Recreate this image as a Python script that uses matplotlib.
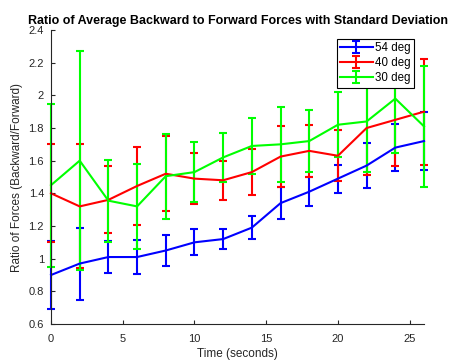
import matplotlib
matplotlib.use("Agg")
import matplotlib.pyplot as plt
from matplotlib.ticker import FuncFormatter

# time points (seconds)
time_s = [0, 2, 4, 6, 8, 10, 12, 14, 16, 18, 20, 22, 24, 26]

# mean ratio of backward / forward force, per angle
mean_54 = [0.90, 0.97, 1.01, 1.01, 1.05, 1.10, 1.12, 1.19, 1.34, 1.41, 1.49, 1.57, 1.68, 1.72]
std_54 = [0.21, 0.22, 0.10, 0.105, 0.095, 0.08, 0.06, 0.07, 0.10, 0.09, 0.085, 0.14, 0.145, 0.18]

mean_40 = [1.40, 1.32, 1.36, 1.445, 1.52, 1.49, 1.48, 1.53, 1.625, 1.66, 1.63, 1.80, 1.85, 1.90]
std_40 = [0.30, 0.38, 0.205, 0.24, 0.23, 0.155, 0.12, 0.14, 0.185, 0.16, 0.155, 0.29, 0.28, 0.325]

mean_30 = [1.45, 1.60, 1.355, 1.32, 1.505, 1.53, 1.62, 1.69, 1.70, 1.72, 1.82, 1.84, 1.98, 1.81]
std_30 = [0.50, 0.67, 0.25, 0.26, 0.26, 0.185, 0.15, 0.17, 0.23, 0.19, 0.20, 0.31, 0.335, 0.37]

labels = ["54 deg", "40 deg", "30 deg"]
colors = ["#0000ff", "#ff0000", "#00ff00"]

plt.rcParams['font.family'] = ['Liberation Sans', 'DejaVu Sans']
axis_grey = "#262626"

fig = plt.figure(figsize=(4.49, 3.60), dpi=100)
ax = fig.add_axes([51 / 449, 1 - 324 / 360, 373 / 449, 294 / 360])

series = [(mean_54, std_54), (mean_40, std_40), (mean_30, std_30)]
for (m, s), lab, col in zip(series, labels, colors):
    # caps at t=0 and t=26 stick out past the axes edge, like the original
    ax.errorbar(time_s, m, yerr=s, color=col, lw=1.5, elinewidth=1.5,
                capsize=3.2, capthick=1.5, label=lab, clip_on=False)

ax.set_xlim(0, 26)
ax.set_ylim(0.6, 2.4)
ax.set_xticks([0, 5, 10, 15, 20, 25])
ax.set_yticks([0.6, 0.8, 1.0, 1.2, 1.4, 1.6, 1.8, 2.0, 2.2, 2.4])
ax.yaxis.set_major_formatter(FuncFormatter(lambda v, p: f"{v:g}"))

for side in ("top", "right"):
    ax.spines[side].set_visible(False)
for side in ("left", "bottom"):
    ax.spines[side].set_color(axis_grey)
    ax.spines[side].set_linewidth(0.8)
ax.tick_params(direction="in", length=3, width=0.8, colors=axis_grey, labelsize=8)
ax.tick_params(axis="x", pad=7)
ax.tick_params(axis="y", pad=5)

ax.set_title("Ratio of Average Backward to Forward Forces with Standard Deviation",
             fontsize=9, fontweight="bold", pad=4)
ax.set_xlabel("Time (seconds)", fontsize=8.5, color=axis_grey, labelpad=3)
ax.set_ylabel("Ratio of Forces (Backward/Forward)", fontsize=8.5, color=axis_grey, labelpad=4)

leg = ax.legend(loc="upper right", bbox_to_anchor=(0.973, 0.97), fontsize=8.3,
                fancybox=False, framealpha=1, edgecolor="black",
                borderpad=0.3, labelspacing=0.25, handlelength=2.8, handletextpad=0.2,
                borderaxespad=0)
leg.get_frame().set_linewidth(0.8)
leg.set_zorder(10)

fig.savefig("out.png", dpi=100)
